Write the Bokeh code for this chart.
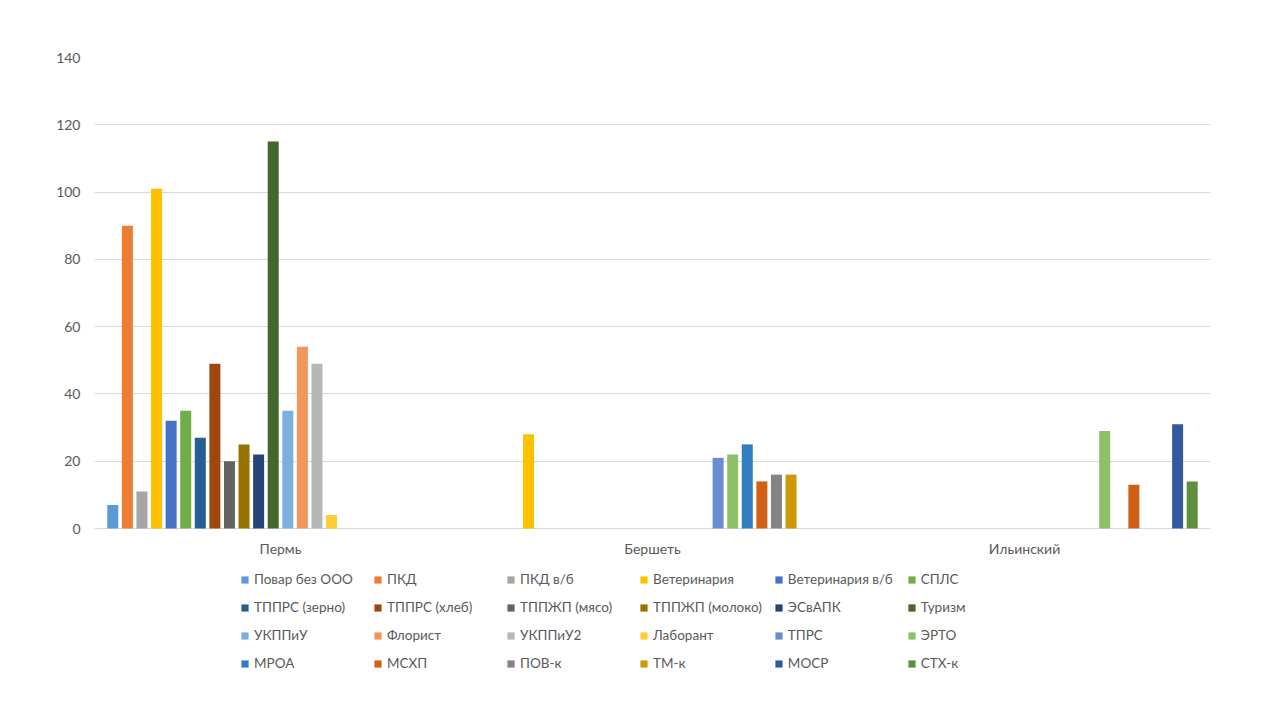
from bokeh.plotting import figure
from bokeh.models import ColumnDataSource, Legend, LegendItem, FixedTicker
from bokeh.core.properties import value
from bokeh.transform import dodge
from bokeh.embed import file_html
from bokeh.resources import INLINE

# Locations (x categories)
categories = ["Пермь", "Бершеть", "Ильинский"]

# Programmes (series), in legend order
series_names = [
    "Повар без ООО", "ПКД", "ПКД в/б", "Ветеринария", "Ветеринария в/б", "СПЛС",
    "ТППРС (зерно)", "ТППРС (хлеб)", "ТППЖП (мясо)", "ТППЖП (молоко)", "ЭСвАПК", "Туризм",
    "УКППиУ", "Флорист", "УКППиУ2", "Лаборант", "ТПРС", "ЭРТО",
    "МРОА", "МСХП", "ПОВ-к", "ТМ-к", "МОСР", "СТХ-к",
]

# Values per location, one entry per programme (None = no students)
perm_values = [7, 90, 11, 101, 32, 35, 27, 49, 20, 25, 22, 115,
               35, 54, 49, 4, None, None, None, None, None, None, None, None]
bershet_values = [None, None, None, 28, None, None, None, None, None, None, None, None,
                  None, None, None, None, 21, 22, 25, 14, 16, 16, None, None]
ilyinsky_values = [None, None, None, None, None, None, None, None, None, None, None, None,
                   None, None, None, None, None, 29, None, 13, None, None, 31, 14]

y_ticks = [0, 20, 40, 60, 80, 100, 120, 140]

colors = [
    "#5B9BD5", "#ED7D31", "#A5A5A5", "#FFC000", "#4472C4", "#70AD47",
    "#255E91", "#9E480E", "#636363", "#997300", "#264478", "#43682B",
    "#7CAFDD", "#F1975A", "#B7B7B7", "#FFCD33", "#698ED0", "#8CC168",
    "#327DC2", "#D06016", "#848484", "#CC9A06", "#335AA1", "#5E8F3E",
]

TEXT = "#595959"
GRID = "#D9D9D9"
FONT = "Lato"
FONT_SIZE = "14px"
LEGEND_COLS = 6
LEGEND_ROWS = 4

# The plotting area runs down to the bottom of the page so that the legend can
# sit inside it, under the category labels; the value axis starts below zero
# to leave that room (0 stays at the same height as with a 57..528 px frame).
Y_MAX = 140
Y_MIN = -Y_MAX * 192 / 471

p = figure(
    x_range=categories, y_range=(Y_MIN, Y_MAX),
    width=1280, height=720,
    output_backend="svg", toolbar_location=None,
    x_axis_location=None,
    min_border_left=94, min_border_right=70, min_border_top=57, min_border_bottom=0,
)
p.x_range.range_padding = 0
p.outline_line_color = None
p.background_fill_color = "white"
p.border_fill_color = "white"

n = len(series_names)
step = 0.0392
bar_w = 0.0296

items = []
for i, name in enumerate(series_names):
    cats, vals = [], []
    for c, v in zip(categories, [perm_values[i], bershet_values[i], ilyinsky_values[i]]):
        if v is not None:
            cats.append(c)
            vals.append(v)
    src = ColumnDataSource(dict(cat=cats, val=vals))
    r = p.vbar(x=dodge("cat", (i - (n - 1) / 2) * step, range=p.x_range),
               top="val", width=bar_w, source=src,
               fill_color=colors[i], line_color=None)
    items.append(LegendItem(label=name, renderers=[r]))

# value axis
p.yaxis.ticker = FixedTicker(ticks=y_ticks)
p.yaxis.axis_line_color = None
p.yaxis.major_tick_line_color = None
p.yaxis.major_tick_out = 0
p.yaxis.minor_tick_line_color = None
p.yaxis.minor_tick_out = 0
p.yaxis.major_label_standoff = 14
p.yaxis.major_label_text_font = FONT
p.yaxis.major_label_text_font_size = FONT_SIZE
p.yaxis.major_label_text_color = TEXT

p.xgrid.grid_line_color = None
p.ygrid.grid_line_color = GRID
p.ygrid.ticker = FixedTicker(ticks=y_ticks)

# category labels under the zero line
p.text(x=categories, y=[0] * len(categories), text=categories,
       y_offset=20, text_align="center", text_baseline="middle",
       text_font=value(FONT), text_font_size=FONT_SIZE, text_color=TEXT)

# legend grid under the chart; it fills column by column, so order items to
# read row by row
ordered = [items[r * LEGEND_COLS + c] for c in range(LEGEND_COLS) for r in range(LEGEND_ROWS)]

legend = Legend(
    items=ordered, orientation="vertical", nrows=LEGEND_ROWS,
    location=(146, 49),
    glyph_width=9, glyph_height=9, label_standoff=5,
    label_width=107, label_height=16, spacing=12,
    padding=4, margin=0,
    border_line_color=None, background_fill_alpha=0,
    label_text_font=FONT, label_text_font_size="13.5px", label_text_color=TEXT,
)
p.add_layout(legend)

open("out.html", "w").write(file_html(p, INLINE))
